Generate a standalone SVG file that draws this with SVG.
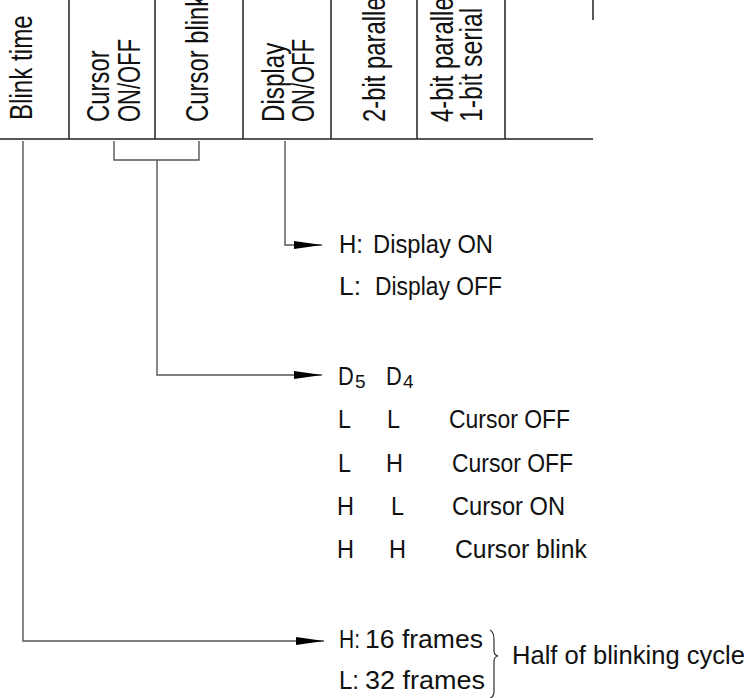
<svg xmlns="http://www.w3.org/2000/svg" width="747" height="698" viewBox="0 0 747 698">
<style>
  text { font-family: "Liberation Sans", Arial, sans-serif; fill: #111; }
  .hd { font-size: 31px; }
  .bd { font-size: 26px; }
  .sub { font-size: 19px; }
  .tbl { stroke: #222; stroke-width: 1.5; fill: none; }
  .con { stroke: #555; stroke-width: 1.4; fill: none; }
</style>
<defs>
  <marker id="arr" markerUnits="userSpaceOnUse" markerWidth="30" markerHeight="10" refX="28" refY="5" orient="auto">
    <path d="M0,1 L28,5 L0,9 z" fill="#000"/>
  </marker>
</defs>
<rect width="747" height="698" fill="#fff"/>

<g id="table">
  <path class="tbl" d="M0,139 H593 M69,0 V139 M155,0 V139 M243,0 V139 M331,0 V139 M417,0 V139 M505,0 V139"/>
  <path class="tbl" d="M593,0 V20" stroke="#444"/>
</g>

<g id="col-blink-time">
  <text class="hd" transform="translate(32,120) rotate(-90) scale(0.78,1)">Blink time</text>
</g>
<g id="col-cursor-onoff">
  <text class="hd" transform="translate(109,122) rotate(-90) scale(0.77,1)">Cursor</text>
  <text class="hd" transform="translate(140,122) rotate(-90) scale(0.71,1)">ON/OFF</text>
</g>
<g id="col-cursor-blink">
  <text class="hd" transform="translate(208,122) rotate(-90) scale(0.77,1)">Cursor blink</text>
</g>
<g id="col-display-onoff">
  <text class="hd" transform="translate(284,122) rotate(-90) scale(0.78,1)">Display</text>
  <text class="hd" transform="translate(314,122) rotate(-90) scale(0.71,1)">ON/OFF</text>
</g>
<g id="col-2bit">
  <text class="hd" transform="translate(385,122) rotate(-90) scale(0.77,1)">2-bit parallel</text>
</g>
<g id="col-4bit">
  <text class="hd" transform="translate(453,122) rotate(-90) scale(0.77,1)">4-bit parallel</text>
  <text class="hd" transform="translate(482,122) rotate(-90) scale(0.8,1)">1-bit serial</text>
</g>

<g id="connectors">
  <path class="con" d="M285,141 V245 H322" marker-end="url(#arr)"/>
  <path class="con" d="M114,141 V160 H199 V141 M157,160 V375 H322" marker-end="url(#arr)"/>
  <path class="con" d="M23,141 V641 H324" marker-end="url(#arr)"/>
</g>

<g id="display-states">
  <text class="bd" x="339" y="253" textLength="24" lengthAdjust="spacingAndGlyphs">H:</text>
  <text class="bd" x="373" y="253" textLength="120" lengthAdjust="spacingAndGlyphs">Display ON</text>
  <text class="bd" x="339" y="295" textLength="22" lengthAdjust="spacingAndGlyphs">L:</text>
  <text class="bd" x="375" y="295" textLength="127" lengthAdjust="spacingAndGlyphs">Display OFF</text>
</g>

<g id="cursor-states">
  <text class="bd" transform="translate(338,385) scale(0.84,1)">D</text>
  <text class="sub" x="355" y="388">5</text>
  <text class="bd" transform="translate(386,385) scale(0.84,1)">D</text>
  <text class="sub" x="403" y="388">4</text>

  <text class="bd" x="338" y="428" textLength="13" lengthAdjust="spacingAndGlyphs">L</text>
  <text class="bd" x="387" y="428" textLength="13" lengthAdjust="spacingAndGlyphs">L</text>
  <text class="bd" x="449" y="428" textLength="121" lengthAdjust="spacingAndGlyphs">Cursor OFF</text>

  <text class="bd" x="338" y="472" textLength="13" lengthAdjust="spacingAndGlyphs">L</text>
  <text class="bd" x="386" y="472" textLength="17" lengthAdjust="spacingAndGlyphs">H</text>
  <text class="bd" x="452" y="472" textLength="121" lengthAdjust="spacingAndGlyphs">Cursor OFF</text>

  <text class="bd" x="337" y="515" textLength="17" lengthAdjust="spacingAndGlyphs">H</text>
  <text class="bd" x="391" y="515" textLength="13" lengthAdjust="spacingAndGlyphs">L</text>
  <text class="bd" x="452" y="515" textLength="113" lengthAdjust="spacingAndGlyphs">Cursor ON</text>

  <text class="bd" x="337" y="558" textLength="17" lengthAdjust="spacingAndGlyphs">H</text>
  <text class="bd" x="389" y="558" textLength="17" lengthAdjust="spacingAndGlyphs">H</text>
  <text class="bd" x="455" y="558" textLength="132" lengthAdjust="spacingAndGlyphs">Cursor blink</text>
</g>

<g id="blink-states">
  <text class="bd" x="339" y="648" textLength="21" lengthAdjust="spacingAndGlyphs">H:</text>
  <text class="bd" x="365" y="648" textLength="118" lengthAdjust="spacingAndGlyphs">16 frames</text>
  <text class="bd" x="339" y="689" textLength="20" lengthAdjust="spacingAndGlyphs">L:</text>
  <text class="bd" x="365" y="689" textLength="120" lengthAdjust="spacingAndGlyphs">32 frames</text>
  <path d="M490,630 Q494,632 494,640 V651 Q494,655 498,656 Q494,657 494,661 V691 Q494,697 490,698" fill="none" stroke="#333" stroke-width="1.2"/>
  <text class="bd" x="512" y="664" textLength="233" lengthAdjust="spacingAndGlyphs">Half of blinking cycle</text>
</g>
</svg>
